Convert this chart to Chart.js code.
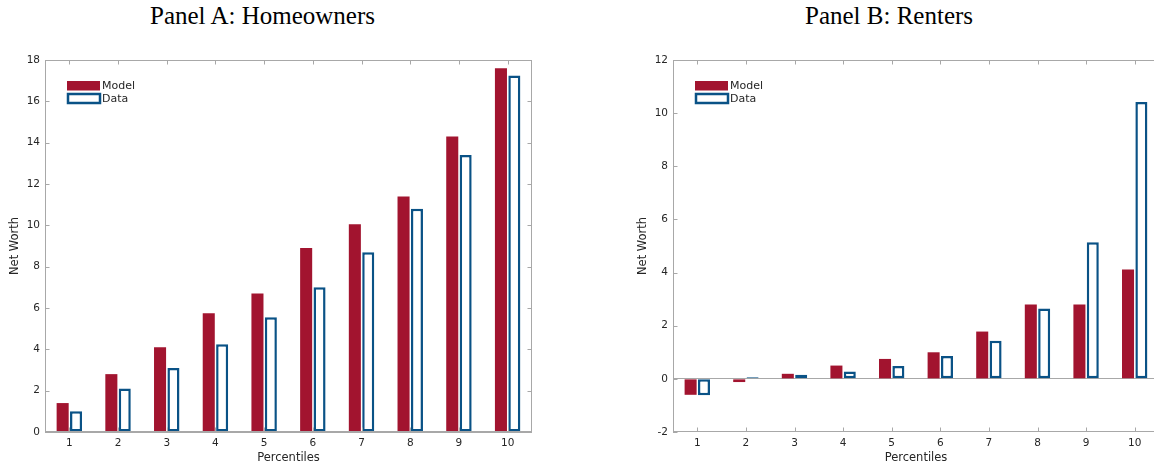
<!DOCTYPE html>
<html>
<head>
<meta charset="utf-8">
<script src="https://cdn.jsdelivr.net/npm/chart.js@4.4.0/dist/chart.umd.min.js"></script>
<style>
  body { margin: 0; width: 1154px; height: 467px; overflow: hidden; background: #fff; position: relative; }
  .panel-title { position: absolute; top: 3px; line-height: 25px; font-family: 'Liberation Serif', serif; font-size: 25px; color: #000; white-space: nowrap; }
  .wrap { position: absolute; top: 0; width: 545px; height: 467px; }
</style>
</head>
<body>
<div class="panel-title" style="left:150px">Panel A: Homeowners</div>
<div class="panel-title" style="left:805px">Panel B: Renters</div>
<div class="wrap" style="left:0"><canvas id="homeowners"></canvas></div>
<div class="wrap" style="left:625px"><canvas id="renters"></canvas></div>
<script>
// Data
const percentiles = ['1', '2', '3', '4', '5', '6', '7', '8', '9', '10'];
const ownersModel = [1.4, 2.8, 4.1, 5.75, 6.7, 8.9, 10.05, 11.4, 14.3, 17.6];
const ownersData = [1.0, 2.1, 3.1, 4.25, 5.55, 7.0, 8.7, 10.8, 13.4, 17.25];
const rentersModel = [-0.6, -0.12, 0.19, 0.5, 0.75, 1.0, 1.78, 2.8, 2.8, 4.12];
const rentersData = [-0.62, 0.06, 0.15, 0.28, 0.48, 0.86, 1.43, 2.65, 5.14, 10.42];

const RED = '#a2142f';   // Model bars
const BLUE = '#0a5286';  // Data outline
const AXIS = '#a8a8a8';  // box + ticks
const TEXT = '#262626';

// box around plot, inward ticks, and the little legend in the top left corner
const matlabBox = {
    id: 'matlabBox',
    afterDraw(chart) {
        const { ctx, chartArea: a, scales: { x, y } } = chart;
        const len = 4.5;
        ctx.save();
        ctx.strokeStyle = AXIS;
        ctx.lineWidth = 1;
        ctx.strokeRect(a.left + 0.5, a.top + 0.5, a.right - a.left - 1, a.bottom - a.top - 1);
        ctx.beginPath();
        x.ticks.forEach((t, i) => {
            const px = Math.round(x.getPixelForTick(i)) + 0.5;
            ctx.moveTo(px, a.bottom); ctx.lineTo(px, a.bottom - len);
            ctx.moveTo(px, a.top); ctx.lineTo(px, a.top + len);
        });
        y.ticks.forEach((t, i) => {
            const py = Math.round(y.getPixelForTick(i)) + 0.5;
            ctx.moveTo(a.left, py); ctx.lineTo(a.left + len, py);
            ctx.moveTo(a.right, py); ctx.lineTo(a.right - len, py);
        });
        ctx.stroke();

        // legend
        const [m, d] = chart.data.datasets;
        ctx.fillStyle = m.backgroundColor;
        ctx.fillRect(a.left + 22, a.top + 21, 33, 9.5);
        ctx.strokeStyle = d.borderColor;
        ctx.lineWidth = 2.5;
        ctx.strokeRect(a.left + 23, a.top + 34, 32, 9);
        ctx.fillStyle = TEXT;
        ctx.font = '11px "DejaVu Sans"';
        ctx.textBaseline = 'middle';
        ctx.fillText(m.label, a.left + 57, a.top + 26);
        ctx.fillText(d.label, a.left + 57, a.top + 39);
        ctx.restore();
    }
};

function makePanel(id, model, data, yMin, yMax, step, padLeft, yTitlePad) {
    return new Chart(document.getElementById(id), {
        type: 'bar',
        data: {
            labels: percentiles,
            datasets: [{
                label: 'Model',
                data: model,
                backgroundColor: RED,
                borderWidth: 0,
                categoryPercentage: 0.55,
                barPercentage: 0.9
            }, {
                label: 'Data',
                data: data,
                backgroundColor: '#ffffff',
                borderColor: BLUE,
                borderWidth: 2.5,
                borderSkipped: false,
                categoryPercentage: 0.55,
                barPercentage: 0.9
            }]
        },
        options: {
            responsive: true,
            maintainAspectRatio: false,
            animation: false,
            layout: { padding: { top: 60, right: padLeft === 45 ? 13 : 11, bottom: 0, left: 0 } },
            plugins: {
                legend: { display: false },
                tooltip: { enabled: false }
            },
            scales: {
                x: {
                    grid: { display: false, drawTicks: false },
                    border: { display: false },
                    ticks: { color: TEXT, padding: 5, font: { size: 10.5, family: 'DejaVu Sans' } },
                    title: {
                        display: true,
                        text: 'Percentiles',
                        color: TEXT,
                        font: { size: 11.5, family: 'DejaVu Sans' },
                        padding: { top: 0, bottom: 2.5 }
                    },
                    afterFit: s => { s.height = 35; }
                },
                y: {
                    min: yMin,
                    max: yMax,
                    grid: {
                        drawTicks: false,
                        color: c => (c.tick.value === 0 ? AXIS : 'transparent')
                    },
                    border: { display: false },
                    ticks: { stepSize: step, color: TEXT, padding: 5, font: { size: 10.5, family: 'DejaVu Sans' } },
                    title: {
                        display: true,
                        text: 'Net Worth',
                        color: TEXT,
                        font: { size: 11.5, family: 'DejaVu Sans' },
                        padding: { top: yTitlePad, bottom: 0 }
                    },
                    afterFit: s => { s.width = padLeft; }
                }
            }
        },
        plugins: [matlabBox]
    });
}

// Panel A: Homeowners
const homeowners = makePanel('homeowners', ownersModel, ownersData, 0, 18, 2, 45, 8.6);

// Panel B: Renters
const renters = makePanel('renters', rentersModel, rentersData, -2, 12, 2, 48, 11.4);
</script>
</body>
</html>
